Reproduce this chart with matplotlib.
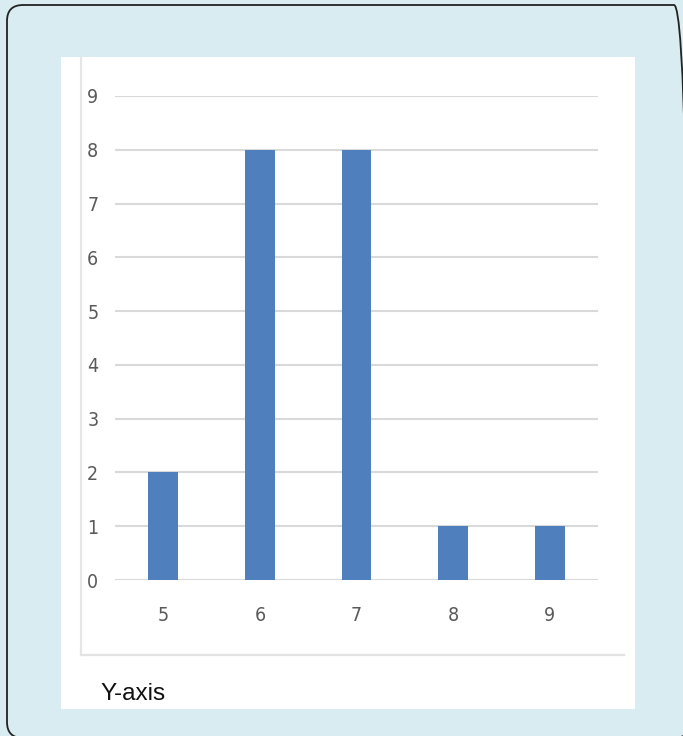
import matplotlib
matplotlib.use("Agg")
import matplotlib.pyplot as plt
from matplotlib.patches import FancyBboxPatch, Rectangle
from matplotlib.lines import Line2D
from matplotlib.transforms import IdentityTransform

categories = ["5", "6", "7", "8", "9"]
values = [2, 8, 8, 1, 1]
yticks = [0, 1, 2, 3, 4, 5, 6, 7, 8, 9]
label_text = "Y-axis"

W, H = 683, 736
fig = plt.figure(figsize=(W / 100, H / 100), dpi=100)
fig.patch.set_facecolor("#d8ecf1")

def fx(px):
    return px / W

def fy(py):
    return 1 - py / H

pix = IdentityTransform()

# rounded outer border in pixel units (extends slightly beyond right/bottom edges)
border = FancyBboxPatch((7, H - 738), 690 - 7, 738 - 5,
                        boxstyle="round,pad=0,rounding_size=16",
                        transform=pix, facecolor="none",
                        edgecolor="#222222", linewidth=1.3, clip_on=False, zorder=1)
fig.patches.append(border)

# white panel
panel = Rectangle((61, H - 709), 635 - 61, 709 - 57,
                  transform=pix, facecolor="white", edgecolor="none", zorder=1)
fig.patches.append(panel)

# chart area faint border
fig.add_artist(Line2D([81, 81], [H - 57, H - 655], transform=pix,
                      color="#e6e6e6", linewidth=1.6, zorder=2))
fig.add_artist(Line2D([81, 624], [H - 655, H - 655], transform=pix,
                      color="#e3e3e3", linewidth=1.6, zorder=2))

ax = fig.add_axes([fx(115), fy(580), fx(598 - 115), (580 - 96) / H])
ax.set_zorder(5)
ax.set_facecolor("none")
x = list(range(len(categories)))
ax.bar(x, values, width=0.31, color="#4f7fbd", zorder=3)
ax.set_xlim(-0.5, len(categories) - 0.5)
ax.set_ylim(0, 9)
ax.set_yticks(yticks)
ax.set_xticks(x)
ax.set_xticklabels(categories)
ax.yaxis.grid(True, color="#d9d9d9", linewidth=1.5, zorder=0)
ax.set_axisbelow(True)
for s in ax.spines.values():
    s.set_visible(False)
ax.tick_params(axis="both", length=0, colors="#595959")
ax.tick_params(axis="y", pad=12)
ax.tick_params(axis="x", pad=19)
for lab in ax.get_yticklabels() + ax.get_xticklabels():
    lab.set_fontsize(14)
    lab.set_fontstretch("condensed")
    lab.set_fontfamily(["Liberation Sans Narrow", "DejaVu Sans"])
    lab.set_color("#595959")

fig.text(fx(100), fy(694), label_text, fontsize=17.5, family=["Liberation Sans", "DejaVu Sans"],
         color="#111111", va="center", ha="left", zorder=6)

fig.savefig("out.png", dpi=100, facecolor=fig.get_facecolor())
